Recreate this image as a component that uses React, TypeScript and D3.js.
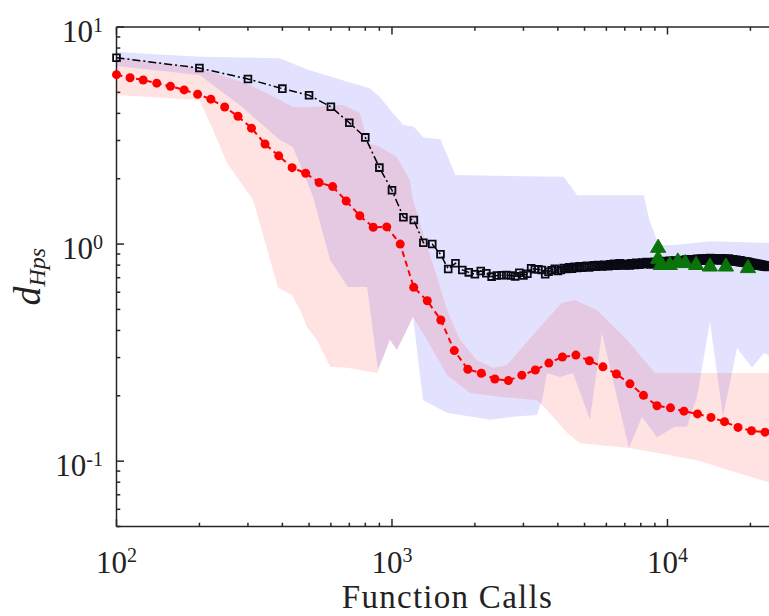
import React from 'react';
import * as d3 from 'd3';

const WIDTH = 769;
const HEIGHT = 616;

// Axis limits (log-log)
const xLimits: [number, number] = [100, 25000];
const yLimits: [number, number] = [0.05, 10];

// Decade tick labels
const xTickValues = [100, 1000, 10000];
const xTickExponents = ['2', '3', '4'];
const yTickValues = [0.1, 1, 10];
const yTickExponents = ['-1', '0', '1'];

const xLabel = 'Function Calls';

// Mean d_Hps of the first method, recorded every 100 function calls (100 ... 23300)
const blackStep = 100;
const blackValues = [
  7.22, 6.47, 5.76, 5.20, 4.85, 4.29, 3.62, 3.10, 2.25, 1.77,
  1.33, 1.29, 1.015, 1.00, 0.897, 0.768, 0.816,
  0.760, 0.741, 0.726, 0.752, 0.734, 0.708, 0.716, 0.718, 0.720, 0.716,
  0.710, 0.738, 0.716, 0.730, 0.774, 0.766, 0.766, 0.760, 0.727,
  0.745, 0.758, 0.770, 0.752,
  0.760, 0.775, 0.768, 0.781, 0.770, 0.785, 0.776, 0.790, 0.779, 0.786,
  0.795, 0.781, 0.790, 0.798, 0.786, 0.800, 0.792, 0.788, 0.803, 0.795,
  0.790, 0.806, 0.798, 0.811, 0.795, 0.802, 0.815, 0.800, 0.808, 0.797,
  0.812, 0.804, 0.798, 0.816, 0.807, 0.801, 0.819, 0.810, 0.803, 0.814,
  0.822, 0.808, 0.815, 0.826, 0.812, 0.818, 0.805, 0.823, 0.815, 0.828,
  0.812, 0.820, 0.832, 0.816, 0.824, 0.810, 0.829, 0.821, 0.835, 0.818,
  0.826, 0.838, 0.820, 0.832, 0.825, 0.840, 0.822, 0.834, 0.828, 0.843,
  0.830, 0.824, 0.838, 0.845, 0.829, 0.836, 0.848, 0.832, 0.841, 0.835,
  0.850, 0.838, 0.844, 0.833, 0.852, 0.840, 0.847, 0.856, 0.839, 0.845,
  0.853, 0.842, 0.858, 0.848, 0.838, 0.855, 0.846, 0.860, 0.850, 0.843,
  0.857, 0.849, 0.862, 0.845, 0.853, 0.859, 0.842, 0.856, 0.848, 0.861,
  0.851, 0.844, 0.858, 0.847, 0.855, 0.840, 0.852, 0.861, 0.846, 0.850,
  0.842, 0.855, 0.848, 0.838, 0.851, 0.845, 0.857, 0.840, 0.849, 0.836,
  0.846, 0.839, 0.852, 0.834, 0.844, 0.838, 0.830, 0.847, 0.835, 0.841,
  0.829, 0.838, 0.826, 0.843, 0.832, 0.824, 0.836, 0.828, 0.820, 0.834,
  0.825, 0.818, 0.831, 0.822, 0.815, 0.828, 0.819, 0.812, 0.824, 0.816,
  0.810, 0.821, 0.813, 0.806, 0.818, 0.809, 0.803, 0.815, 0.807, 0.800,
  0.811, 0.804, 0.797, 0.809, 0.801, 0.795, 0.806, 0.798, 0.792, 0.803,
  0.796, 0.790, 0.801, 0.793, 0.788, 0.798, 0.791, 0.786, 0.795, 0.789,
  0.784, 0.792, 0.787,
];

// Mean d_Hps of the second method
const redCalls = [
  100, 112, 125, 140, 157, 176, 197, 220, 247, 276,
  309, 346, 388, 434, 486, 544, 609, 682, 764, 855,
  957, 1071, 1199, 1343, 1504, 1683, 1885, 2110, 2362, 2645,
  2961, 3315, 3711, 4155, 4651, 5207, 5830, 6527, 7307, 8180,
  9158, 10253, 11479, 12851, 14387, 16107, 18033, 20189, 22602,
];
const redValues = [
  6.03, 5.84, 5.70, 5.51, 5.33, 5.13, 4.90, 4.65, 4.28, 3.88,
  3.42, 2.89, 2.55, 2.25, 2.12, 1.92, 1.84, 1.58, 1.35, 1.195,
  1.20, 1.00, 0.632, 0.548, 0.447, 0.323, 0.265, 0.254, 0.239, 0.235,
  0.249, 0.263, 0.283, 0.302, 0.308, 0.290, 0.272, 0.252, 0.227, 0.201,
  0.180, 0.176, 0.170, 0.165, 0.159, 0.152, 0.143, 0.138, 0.136,
];

// Third method
const greenCalls = [9250, 9250, 9450, 10200, 10900, 11600, 12700, 14260, 16300, 19600];
const greenValues = [0.96, 0.854, 0.80, 0.80, 0.83, 0.816, 0.80, 0.787, 0.787, 0.774];

// Spread envelopes of the first method
const blueUpperCalls = [100, 200, 390, 500, 690, 830, 900, 1010, 1100, 1200, 1300, 1500, 1700, 4200, 4700, 8200, 8600, 9300, 10500, 14300, 25000];
const blueUpperValues = [7.67, 7.30, 7.18, 6.34, 5.60, 5.22, 4.78, 4.00, 3.54, 3.47, 3.10, 3.04, 2.08, 2.04, 1.68, 1.68, 1.29, 0.99, 0.99, 1.03, 1.01];
const blueLowerCalls = [100, 200, 280, 392, 437, 517, 596, 692, 812, 890, 983, 1042, 1192, 1296, 1584, 2268, 2749, 3360, 3504, 3653, 4072, 4539, 4935, 5232, 5783, 6501, 7247, 8082, 9160, 10650, 11771, 12797, 14264, 15906, 17878, 20262, 22404, 25000];
const blueLowerValues = [6.61, 6.01, 4.37, 3.02, 2.80, 1.65, 0.845, 0.634, 0.634, 0.263, 0.362, 0.325, 0.462, 0.191, 0.167, 0.155, 0.160, 0.163, 0.191, 0.255, 0.244, 0.255, 0.191, 0.155, 0.390, 0.206, 0.115, 0.160, 0.129, 0.144, 0.144, 0.198, 0.438, 0.160, 0.332, 0.269, 0.315, 0.292];

// Spread envelopes of the second method
const redUpperCalls = [100, 200, 305, 392, 437, 504, 664, 765, 818, 904, 1042, 1162, 1192, 1296, 1457, 1584, 1765, 2035, 2326, 2615, 2915, 3445, 4130, 4615, 5546, 7128, 9007, 25000];
const redUpperValues = [7.27, 6.47, 5.40, 4.61, 4.28, 4.28, 4.37, 4.02, 2.92, 2.80, 2.52, 1.97, 1.60, 1.125, 0.705, 0.497, 0.362, 0.292, 0.269, 0.277, 0.325, 0.415, 0.535, 0.553, 0.497, 0.362, 0.255, 0.255];
const redLowerCalls = [100, 200, 224, 252, 313, 386, 434, 464, 491, 534, 596, 687, 882, 983, 1042, 1192, 1374, 1584, 1919, 2466, 3360, 3653, 4318, 4813, 7309, 12797, 25000];
const redLowerValues = [4.86, 4.61, 3.35, 2.36, 1.60, 0.628, 0.583, 0.497, 0.415, 0.362, 0.272, 0.269, 0.255, 0.362, 0.325, 0.462, 0.343, 0.249, 0.206, 0.198, 0.191, 0.172, 0.135, 0.121, 0.115, 0.101, 0.0777];

const PLOT = { left: 116.5, right: 777.1, top: 27, bottom: 526.5 };
const AXIS_COLOR = '#262626';
const TEXT_COLOR = '#222';
const FONT = '"Liberation Serif", "DejaVu Serif", serif';

type Pt = [number, number];
const zip = (a: number[], b: number[]): Pt[] => a.map((v, i) => [v, b[i]]);

export default function App() {
  const x = d3.scaleLog().domain(xLimits).range([PLOT.left, PLOT.right]);
  const y = d3.scaleLog().domain(yLimits).range([PLOT.bottom, PLOT.top]);
  const line = d3.line<Pt>().x(d => x(d[0])).y(d => y(d[1]));
  const band = (up: Pt[], lo: Pt[]) => (line([...up, ...lo.slice().reverse()]) || '') + 'Z';

  const blackPts: Pt[] = blackValues.map((v, i) => [blackStep * (i + 1), v]);
  const redPts = zip(redCalls, redValues);
  const greenPts = zip(greenCalls, greenValues);

  const bluePath = band(zip(blueUpperCalls, blueUpperValues), zip(blueLowerCalls, blueLowerValues));
  const redPath = band(zip(redUpperCalls, redUpperValues), zip(redLowerCalls, redLowerValues));

  const squareSym = d3.symbol(d3.symbolSquare, 46)() || '';
  const triSym = d3.symbol(d3.symbolTriangle, 100)() || '';

  const xTicks = x.ticks();
  const yTicks = y.ticks();
  const isMajor = (v: number) => Math.abs(Math.log10(v) - Math.round(Math.log10(v))) < 1e-9;
  const textStyle = { fontFamily: FONT };

  return (
    <svg
      width={WIDTH}
      height={HEIGHT}
      style={{ position: 'absolute', left: 0, top: 0, background: '#fff', fontFamily: FONT }}
    >
      <defs>
        <clipPath id="plotArea">
          <rect x={PLOT.left} y={PLOT.top} width={PLOT.right - PLOT.left} height={PLOT.bottom - PLOT.top} />
        </clipPath>
      </defs>
      <rect width={WIDTH} height={HEIGHT} fill="#fff" />

      {/* axes box lines and ticks */}
      <g stroke={AXIS_COLOR} strokeWidth={1.5} fill="none">
        <line x1={PLOT.left} x2={PLOT.left} y1={PLOT.top} y2={PLOT.bottom} />
        <line x1={PLOT.left} x2={PLOT.right} y1={PLOT.bottom} y2={PLOT.bottom} />
        <line x1={PLOT.left} x2={PLOT.right} y1={PLOT.top} y2={PLOT.top} />
        <line x1={PLOT.right} x2={PLOT.right} y1={PLOT.top} y2={PLOT.bottom} />
        {yTicks.map(t => {
          const len = isMajor(t) ? 7.5 : 3.8;
          return <line key={'y' + t} x1={PLOT.left} x2={PLOT.left + len} y1={y(t)} y2={y(t)} />;
        })}
        {xTicks.map(t => {
          const len = isMajor(t) ? 7.5 : 3.8;
          return (
            <g key={'x' + t}>
              <line x1={x(t)} x2={x(t)} y1={PLOT.bottom} y2={PLOT.bottom - len} />
              <line x1={x(t)} x2={x(t)} y1={PLOT.top} y2={PLOT.top + len} />
            </g>
          );
        })}
      </g>

      {/* tick labels */}
      <g fill={TEXT_COLOR}>
        {yTickValues.map((v, i) => (
          <text key={'yl' + v} x={103} y={y(v) + 15} textAnchor="end" style={{ ...textStyle, fontSize: 31 }}>
            10<tspan dy={-10} style={{ fontSize: 20 }}>{yTickExponents[i]}</tspan>
          </text>
        ))}
        {xTickValues.map((v, i) => (
          <text key={'xl' + v} x={x(v)} y={572.7} textAnchor="middle" style={{ ...textStyle, fontSize: 31 }}>
            10<tspan dy={-11} style={{ fontSize: 20 }}>{xTickExponents[i]}</tspan>
          </text>
        ))}
      </g>

      {/* axis titles */}
      <text
        x={(PLOT.left + PLOT.right) / 2}
        y={608}
        fill={TEXT_COLOR}
        textAnchor="middle"
        textLength={210}
        lengthAdjust="spacing"
        style={{ ...textStyle, fontSize: 33 }}
      >
        {xLabel}
      </text>
      <text
        transform={`translate(40,${(PLOT.top + PLOT.bottom) / 2}) rotate(-90)`}
        textAnchor="middle"
        fill={TEXT_COLOR}
        style={{ ...textStyle, fontStyle: 'italic' }}
      >
        <tspan style={{ fontSize: 38 }}>d</tspan>
        <tspan dy={5} style={{ fontSize: 24 }}>Hps</tspan>
      </text>

      {/* spread envelopes */}
      <g clipPath="url(#plotArea)">
        <path d={bluePath} fill="#0000ff" fillOpacity={0.115} stroke="none" />
        <path d={redPath} fill="#ff0000" fillOpacity={0.115} stroke="none" />
      </g>

      {/* first method: dash-dot with open squares */}
      <path d={line(blackPts) || ''} fill="none" stroke="#000" strokeWidth={1.5} strokeDasharray="8,3,2,3" />
      <g fill="none" stroke="#0a0a14" strokeWidth={1.8}>
        {blackPts.map((d, i) => (
          <path key={'b' + i} d={squareSym} transform={`translate(${x(d[0])},${y(d[1])})`} />
        ))}
      </g>

      {/* second method: dashed with filled circles */}
      <path d={line(redPts) || ''} fill="none" stroke="#ff0000" strokeWidth={2} strokeDasharray="6,4" />
      <g fill="#ff0000" stroke="none">
        {redPts.map((d, i) => (
          <circle key={'r' + i} cx={x(d[0])} cy={y(d[1])} r={4.5} />
        ))}
      </g>

      {/* third method: filled triangles */}
      <g fill="#0a740a" stroke="#0a740a" strokeWidth={1}>
        {greenPts.map((d, i) => (
          <path key={'g' + i} d={triSym} transform={`translate(${x(d[0])},${y(d[1])})`} />
        ))}
      </g>
    </svg>
  );
}
